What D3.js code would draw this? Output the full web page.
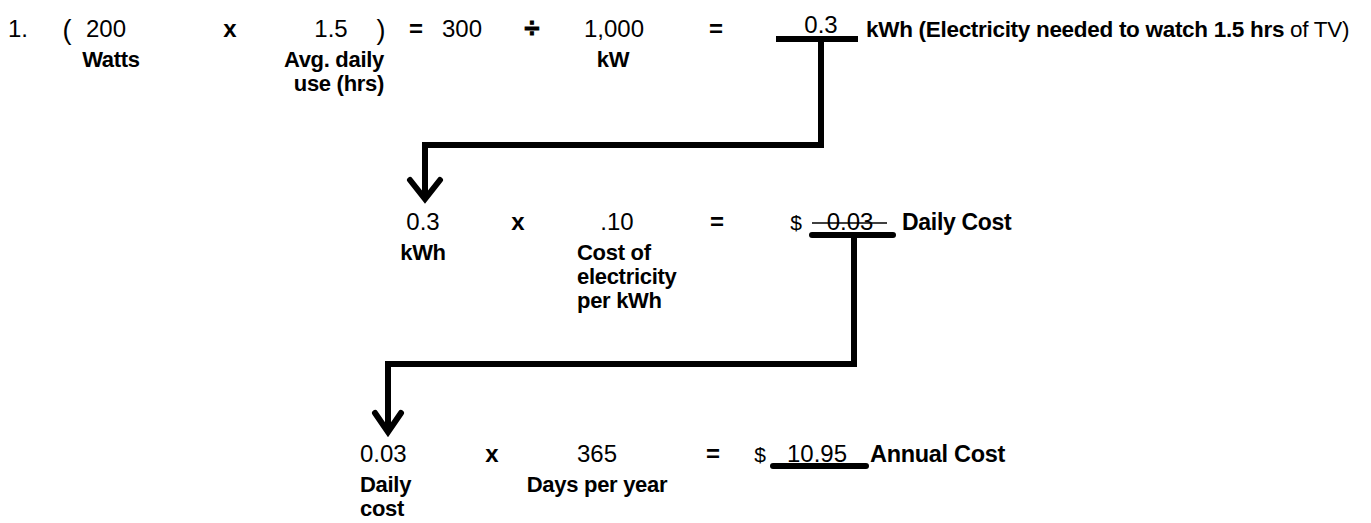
<!DOCTYPE html>
<html>
<head>
<meta charset="utf-8">
<script src="https://cdn.jsdelivr.net/npm/d3@7"></script>
<style>
  body { margin: 0; background: #fff; }
  text { font-family: "Liberation Sans", Arial, sans-serif; fill: #000; }
</style>
</head>
<body>
<svg></svg>
<script>
// the three steps of the sum
let step1Terms = ['1.', '(', '200', 'x', '1.5', ')', '=', '300', '÷', '1,000', '=', '0.3']
let step1Notes = [[], [], ['Watts'], [], ['Avg. daily', 'use (hrs)'], [], [], [], [], ['kW'], [], []]
let step1Result = 'kWh'
let step1Caption = '(Electricity needed to watch 1.5 hrs of TV)'

let step2Terms = ['0.3', 'x', '.10', '=', '$', '0.03']
let step2Notes = [['kWh'], [], ['Cost of', 'electricity', 'per kWh'], [], [], []]
let step2Result = 'Daily Cost'

let step3Terms = ['0.03', 'x', '365', '=', '$', '10.95']
let step3Notes = [['Daily', 'cost'], [], ['Days per year'], [], [], []]
let step3Result = 'Annual Cost'

// layout
let width = 1371
let height = 523
let baselines = [37, 230, 462]
let noteGap = 30
let noteLine = 24

let operators = ['x', '=', '÷']

// x of every term, plus how it is anchored
let step1X = [8, 67, 106, 230, 331, 381, 416, 462, 532, 614, 716, 821]
let step1Anchor = ['start', 'middle', 'middle', 'middle', 'middle', 'middle', 'middle', 'middle', 'middle', 'middle', 'middle', 'middle']
let step1NoteX = [0, 0, 111, 0, 384, 0, 0, 0, 0, 613, 0, 0]
let step1NoteAnchor = ['middle', 'middle', 'middle', 'middle', 'end', 'middle', 'middle', 'middle', 'middle', 'middle', 'middle', 'middle']

let step2X = [423, 518, 617, 717, 796, 850]
let step2Anchor = ['middle', 'middle', 'middle', 'middle', 'middle', 'middle']
let step2NoteX = [423, 0, 577, 0, 0, 0]
let step2NoteAnchor = ['middle', 'middle', 'start', 'middle', 'middle', 'middle']

let step3X = [360, 492, 597, 713, 760, 817]
let step3Anchor = ['start', 'middle', 'middle', 'middle', 'middle', 'middle']
let step3NoteX = [360, 0, 597, 0, 0, 0]
let step3NoteAnchor = ['start', 'middle', 'middle', 'middle', 'middle', 'middle']

// answer underlines [x0, x1]
let answerLines = [[776, 858], [812, 893], [773, 866]]
let answerOffset = [2, 5, 4]
let answerLift = [4, 0, 0]
let resultX = [866, 902, 870]

let termSize = (d) => {
    if (d === '$') return '21px'
    if (d === '(' || d === ')') return '27px'
    if (d === '÷') return '27px'
    return '24px'
}

let svg = d3.select('svg')
    .attr('width', width)
    .attr('height', height)

let drawStep = (terms, notes, xs, anchors, noteXs, noteAnchors, baseline, lift) => {
    let g = svg.append('g')
    let last = terms.length - 1

    g.selectAll('text.term')
        .data(terms)
        .enter()
        .append('text')
        .attr('class', 'term')
        .attr('x', (d, i) => xs[i])
        .attr('y', (d, i) => {
            if (i === last) return baseline - lift
            if (d === '(' || d === ')') return baseline + 2
            return baseline
        })
        .attr('text-anchor', (d, i) => anchors[i])
        .style('font-size', termSize)
        .style('font-weight', (d) => operators.includes(d) ? 'bold' : 'normal')
        .style('stroke', (d) => d === '÷' ? '#000' : 'none')
        .style('stroke-width', (d) => d === '÷' ? 1 : 0)
        .text((d) => d)

    notes.forEach((lines, i) => {
        lines.forEach((line, j) => {
            g.append('text')
                .attr('x', noteXs[i])
                .attr('y', baseline + noteGap + j * noteLine)
                .attr('text-anchor', noteAnchors[i])
                .style('font-size', '22px')
                .style('font-weight', 'bold')
                .style('letter-spacing', '-0.3px')
                .text(line)
        })
    })
}

drawStep(step1Terms, step1Notes, step1X, step1Anchor, step1NoteX, step1NoteAnchor, baselines[0], answerLift[0])
drawStep(step2Terms, step2Notes, step2X, step2Anchor, step2NoteX, step2NoteAnchor, baselines[1], answerLift[1])
drawStep(step3Terms, step3Notes, step3X, step3Anchor, step3NoteX, step3NoteAnchor, baselines[2], answerLift[2])

// result words after each answer
let results = [step1Result, step2Result, step3Result]
let resultSize = ['22.5px', '23px', '23.5px']
results.forEach((r, i) => {
    let t = svg.append('text')
        .attr('x', resultX[i])
        .attr('y', baselines[i])
        .style('font-size', resultSize[i])
        .style('font-weight', 'bold')
        .style('letter-spacing', '-0.3px')
    t.append('tspan').text(r)
    if (i === 0) {
        t.append('tspan').text(' ' + step1Caption.replace(' of TV)', ''))
        t.append('tspan').style('font-weight', 'normal').text(' of TV)')
    }
})

// thick underlines under the answers
answerLines.forEach((l, i) => {
    svg.append('line')
        .attr('x1', l[0])
        .attr('x2', l[1])
        .attr('y1', baselines[i] + answerOffset[i])
        .attr('y2', baselines[i] + answerOffset[i])
        .attr('stroke', '#000')
        .attr('stroke-width', 6)
        .attr('stroke-linecap', i === 0 ? 'butt' : 'round')
})

// the thin line drawn through the daily cost
svg.append('line')
    .attr('x1', 812).attr('x2', 887)
    .attr('y1', baselines[1] - 7).attr('y2', baselines[1] - 7)
    .attr('stroke', '#000')
    .attr('stroke-width', 1.5)

// elbow arrows carrying each answer down to the next step
let line = d3.line()
let elbows = [
    { fromX: 821, fromY: baselines[0] + answerOffset[0], midY: 145, toX: 425, tipY: 202, wing: 15 },
    { fromX: 854, fromY: baselines[1] + answerOffset[1], midY: 364, toX: 388, tipY: 435, wing: 13 }
]
elbows.forEach((e) => {
    svg.append('path')
        .attr('d', line([[e.fromX, e.fromY], [e.fromX, e.midY], [e.toX, e.midY], [e.toX, e.tipY - 3]]))
        .attr('fill', 'none')
        .attr('stroke', '#000')
        .attr('stroke-width', 6)
        .attr('stroke-linejoin', 'miter')
    svg.append('path')
        .attr('d', line([[e.toX - e.wing, e.tipY - 22], [e.toX, e.tipY - 3], [e.toX + e.wing, e.tipY - 22]]))
        .attr('fill', 'none')
        .attr('stroke', '#000')
        .attr('stroke-width', 6)
        .attr('stroke-linejoin', 'miter')
        .attr('stroke-linecap', 'round')
})
</script>
</body>
</html>
